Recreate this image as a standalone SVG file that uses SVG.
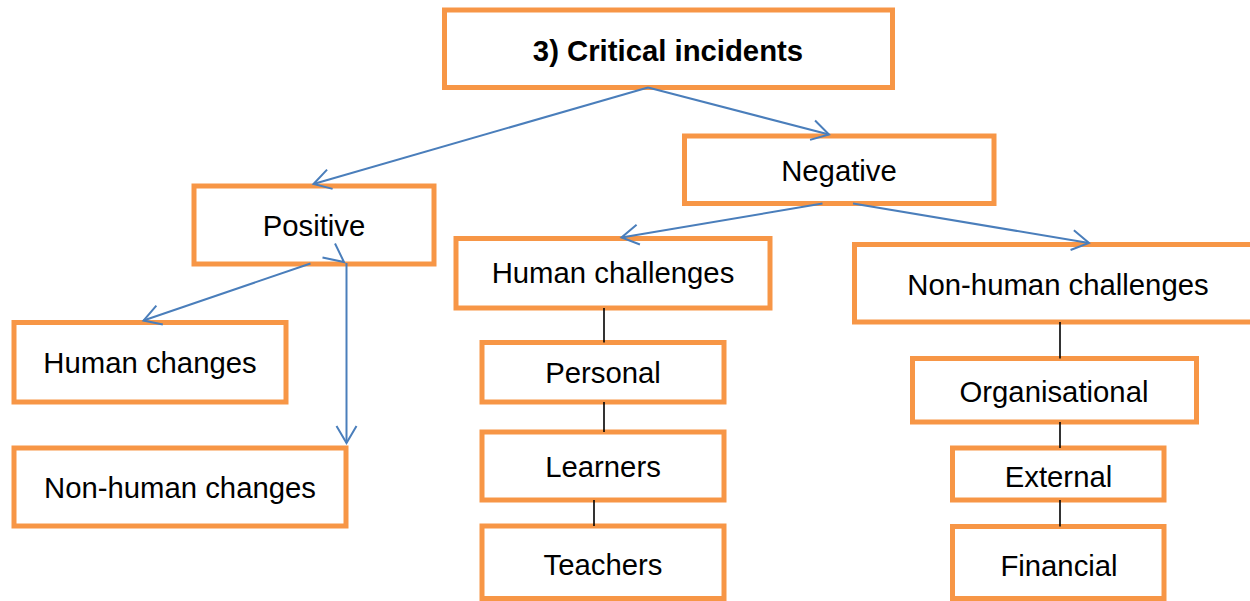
<svg xmlns="http://www.w3.org/2000/svg" width="1250" height="601" viewBox="0 0 1250 601">
<style>
.box{fill:#fff;stroke:#F79646;stroke-width:5}
.t{font-family:"Liberation Sans",Arial,sans-serif;font-size:29.3px;fill:#000;text-anchor:middle}
.b{font-weight:bold}
.arr{stroke:#4A7EBB;stroke-width:2;fill:none;marker-end:url(#ah)}
.ln{stroke:#000;stroke-width:1.6;fill:none}
</style>
<defs>
<marker id="ah" markerUnits="userSpaceOnUse" markerWidth="40" markerHeight="40" viewBox="-20 -20 40 40" refX="0" refY="0" orient="auto" overflow="visible">
<path d="M-17,-10 L0,0 L-17,10" fill="none" stroke="#4A7EBB" stroke-width="2"/>
</marker>
</defs>
<rect width="1250" height="601" fill="#fff"/>
<g id="n-root"><rect class="box" x="444.5" y="10" width="448" height="77.5"/><text class="t b" x="668" y="61">3) Critical incidents</text></g>
<g id="n-positive"><rect class="box" x="194" y="186" width="240" height="78"/><text class="t" x="314" y="236">Positive</text></g>
<g id="n-negative"><rect class="box" x="684.5" y="136" width="309.5" height="67.5"/><text class="t" x="839" y="181">Negative</text></g>
<g id="n-humanchanges"><rect class="box" x="14" y="322.5" width="272" height="79.5"/><text class="t" x="150" y="373">Human changes</text></g>
<g id="n-nonhumanchanges"><rect class="box" x="14" y="448" width="332" height="78"/><text class="t" x="180" y="498">Non-human changes</text></g>
<g id="n-humanchallenges"><rect class="box" x="456" y="238.5" width="314" height="69.5"/><text class="t" x="613" y="283">Human challenges</text></g>
<g id="n-nonhumanchallenges"><rect class="box" x="854.5" y="244.5" width="410" height="77.5"/><text class="t" x="1058" y="295">Non-human challenges</text></g>
<g id="n-personal"><rect class="box" x="482" y="342.5" width="242" height="59.5"/><text class="t" x="603" y="383">Personal</text></g>
<g id="n-learners"><rect class="box" x="482" y="432" width="242" height="68"/><text class="t" x="603" y="477">Learners</text></g>
<g id="n-teachers"><rect class="box" x="482" y="526" width="242" height="72.5"/><text class="t" x="603" y="575">Teachers</text></g>
<g id="n-organisational"><rect class="box" x="912.5" y="358.5" width="284" height="63.5"/><text class="t" x="1054" y="401.5">Organisational</text></g>
<g id="n-external"><rect class="box" x="952.5" y="448" width="211.5" height="52"/><text class="t" x="1058.5" y="486.5">External</text></g>
<g id="n-financial"><rect class="box" x="952.5" y="526.5" width="211.5" height="72"/><text class="t" x="1059" y="576">Financial</text></g>
<g id="connectors">
<line class="arr" x1="648" y1="87.5" x2="313.5" y2="184"/>
<line class="arr" x1="648" y1="87.5" x2="829" y2="134.5"/>
<line class="arr" x1="822.5" y1="203.5" x2="621.5" y2="237.5"/>
<line class="arr" x1="853" y1="203.5" x2="1089" y2="243"/>
<line class="arr" x1="310.5" y1="263.5" x2="143.5" y2="320.5"/>
<line class="arr" x1="346.5" y1="263" x2="346.5" y2="443"/>
<path d="M335,243.5 L344,262 L322.5,257.5" fill="none" stroke="#4A7EBB" stroke-width="2"/>
<line class="ln" x1="604" y1="308" x2="604" y2="342.5"/>
<line class="ln" x1="604" y1="402" x2="604" y2="432"/>
<line class="ln" x1="594" y1="500" x2="594" y2="526"/>
<line class="ln" x1="1060" y1="322" x2="1060" y2="358.5"/>
<line class="ln" x1="1060" y1="422" x2="1060" y2="448"/>
<line class="ln" x1="1060" y1="500" x2="1060" y2="526.5"/>
</g>
</svg>
